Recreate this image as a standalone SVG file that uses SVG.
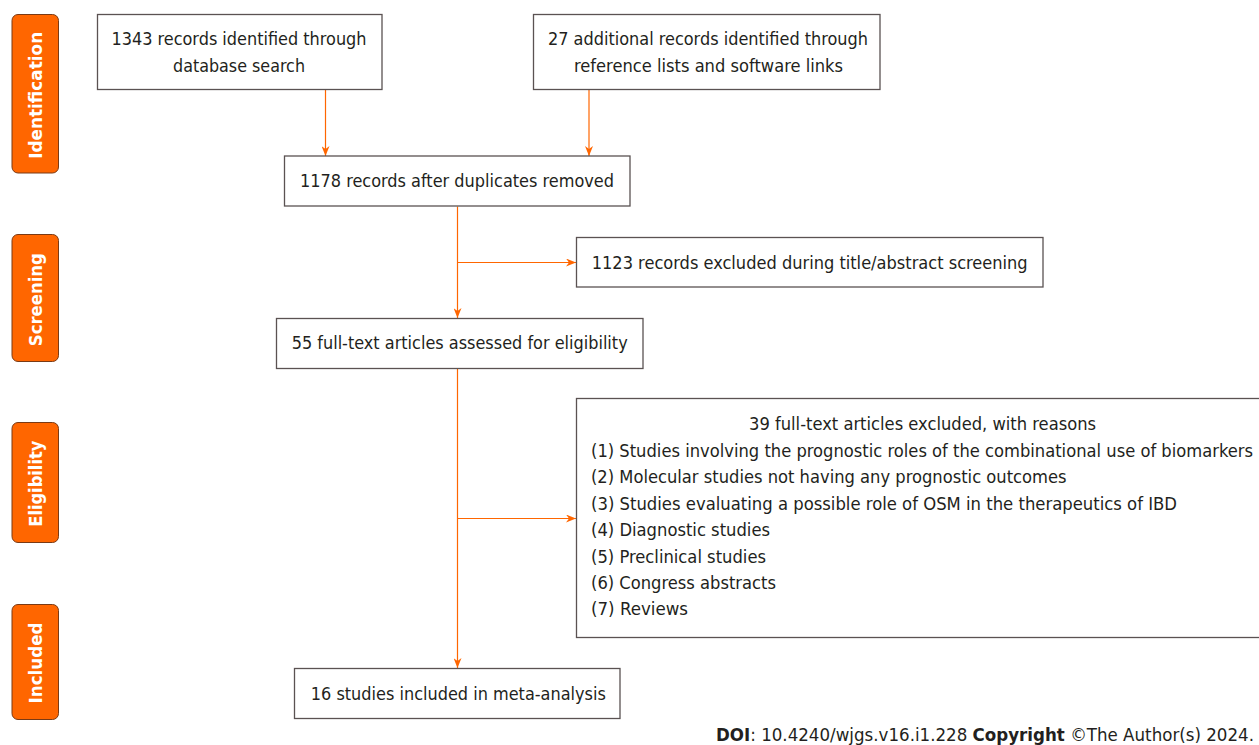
<svg xmlns="http://www.w3.org/2000/svg" width="1259" height="745" viewBox="0 0 1259 745">
  <style>
    .box { fill: #ffffff; stroke: #5a5252; stroke-width: 1.3; }
    .stage { fill: #ff6600; stroke: #7a3a14; stroke-width: 1; }
    .txt { font-family: "DejaVu Sans Condensed", "DejaVu Sans", sans-serif; font-stretch: condensed; font-size: 18px; fill: #231f20; }
    .mid { text-anchor: middle; }
    .lab { font-family: "DejaVu Sans", sans-serif; font-weight: bold; font-size: 17px; fill: #ffffff; text-anchor: middle; }
    .conn { stroke: #ff6600; stroke-width: 1.2; fill: none; marker-end: url(#arr); }
    .doi { font-family: "DejaVu Sans", sans-serif; font-size: 17px; fill: #231f20; }
  </style>
  <defs>
    <marker id="arr" markerUnits="userSpaceOnUse" markerWidth="10" markerHeight="8" refX="10" refY="4" orient="auto">
      <path d="M0,0 L10,4 L0,8 L3,4 Z" fill="#ff6600"/>
    </marker>
  </defs>
  <rect width="1259" height="745" fill="#ffffff"/>

  <g id="stage-identification">
    <rect class="stage" x="12" y="14.5" width="46.5" height="158.5" rx="6"/>
    <text class="lab" transform="translate(42,95.3) rotate(-90)" textLength="127" lengthAdjust="spacingAndGlyphs">Identification</text>
  </g>
  <g id="stage-screening">
    <rect class="stage" x="12" y="234.5" width="46.5" height="127" rx="6"/>
    <text class="lab" transform="translate(42,299.7) rotate(-90)" textLength="93" lengthAdjust="spacingAndGlyphs">Screening</text>
  </g>
  <g id="stage-eligibility">
    <rect class="stage" x="12" y="422.5" width="46.5" height="120" rx="6"/>
    <text class="lab" transform="translate(42,483.7) rotate(-90)" textLength="86" lengthAdjust="spacingAndGlyphs">Eligibility</text>
  </g>
  <g id="stage-included">
    <rect class="stage" x="12" y="604.5" width="46.5" height="115" rx="6"/>
    <text class="lab" transform="translate(42,663) rotate(-90)" textLength="81" lengthAdjust="spacingAndGlyphs">Included</text>
  </g>

  <g id="connectors">
    <path class="conn" d="M325.5,89.5 L325.5,156"/>
    <path class="conn" d="M589,89.5 L589,156"/>
    <path class="conn" d="M457.5,206.5 L457.5,318"/>
    <path class="conn" d="M457.5,262.5 L576,262.5"/>
    <path class="conn" d="M457.5,368.5 L457.5,668"/>
    <path class="conn" d="M457.5,518.5 L576,518.5"/>
  </g>

  <g id="node-database">
    <rect class="box" x="97.5" y="14.5" width="284.5" height="75"/>
    <text class="txt mid" x="239" y="45" textLength="255" lengthAdjust="spacingAndGlyphs">1343 records identified through</text>
    <text class="txt mid" x="239" y="72" textLength="132" lengthAdjust="spacingAndGlyphs">database search</text>
  </g>
  <g id="node-additional">
    <rect class="box" x="533.5" y="14.5" width="346.5" height="75"/>
    <text class="txt mid" x="708" y="45" textLength="320" lengthAdjust="spacingAndGlyphs">27 additional records identified through</text>
    <text class="txt mid" x="708.5" y="72" textLength="269" lengthAdjust="spacingAndGlyphs">reference lists and software links</text>
  </g>
  <g id="node-duplicates">
    <rect class="box" x="284.5" y="156" width="345.5" height="50"/>
    <text class="txt mid" x="457" y="187" textLength="314" lengthAdjust="spacingAndGlyphs">1178 records after duplicates removed</text>
  </g>
  <g id="node-screen-excluded">
    <rect class="box" x="576.5" y="237.5" width="466.5" height="49.5"/>
    <text class="txt mid" x="809.7" y="268.5" textLength="436" lengthAdjust="spacingAndGlyphs">1123 records excluded during title/abstract screening</text>
  </g>
  <g id="node-fulltext">
    <rect class="box" x="276.5" y="318.5" width="366.5" height="50"/>
    <text class="txt mid" x="459.7" y="349" textLength="336" lengthAdjust="spacingAndGlyphs">55 full-text articles assessed for eligibility</text>
  </g>
  <g id="node-fulltext-excluded">
    <rect class="box" x="576.5" y="398.5" width="700" height="239"/>
    <text class="txt mid" x="922.5" y="430" textLength="347" lengthAdjust="spacingAndGlyphs">39 full-text articles excluded, with reasons</text>
    <text class="txt" x="591" y="456.5" textLength="662" lengthAdjust="spacingAndGlyphs">(1) Studies involving the prognostic roles of the combinational use of biomarkers</text>
    <text class="txt" x="591" y="483" textLength="475.5" lengthAdjust="spacingAndGlyphs">(2) Molecular studies not having any prognostic outcomes</text>
    <text class="txt" x="591" y="509.5" textLength="586" lengthAdjust="spacingAndGlyphs">(3) Studies evaluating a possible role of OSM in the therapeutics of IBD</text>
    <text class="txt" x="591" y="536" textLength="179" lengthAdjust="spacingAndGlyphs">(4) Diagnostic studies</text>
    <text class="txt" x="591" y="562.5" textLength="175" lengthAdjust="spacingAndGlyphs">(5) Preclinical studies</text>
    <text class="txt" x="591" y="589" textLength="185" lengthAdjust="spacingAndGlyphs">(6) Congress abstracts</text>
    <text class="txt" x="591" y="615" textLength="97" lengthAdjust="spacingAndGlyphs">(7) Reviews</text>
  </g>
  <g id="node-included">
    <rect class="box" x="294.5" y="668.5" width="325.5" height="50"/>
    <text class="txt mid" x="458.3" y="700" textLength="295" lengthAdjust="spacingAndGlyphs">16 studies included in meta-analysis</text>
  </g>

  <text class="doi" x="716" y="741" textLength="538" lengthAdjust="spacingAndGlyphs"><tspan font-weight="bold">DOI</tspan>: 10.4240/wjgs.v16.i1.228 <tspan font-weight="bold">Copyright</tspan> ©The Author(s) 2024.</text>
</svg>
